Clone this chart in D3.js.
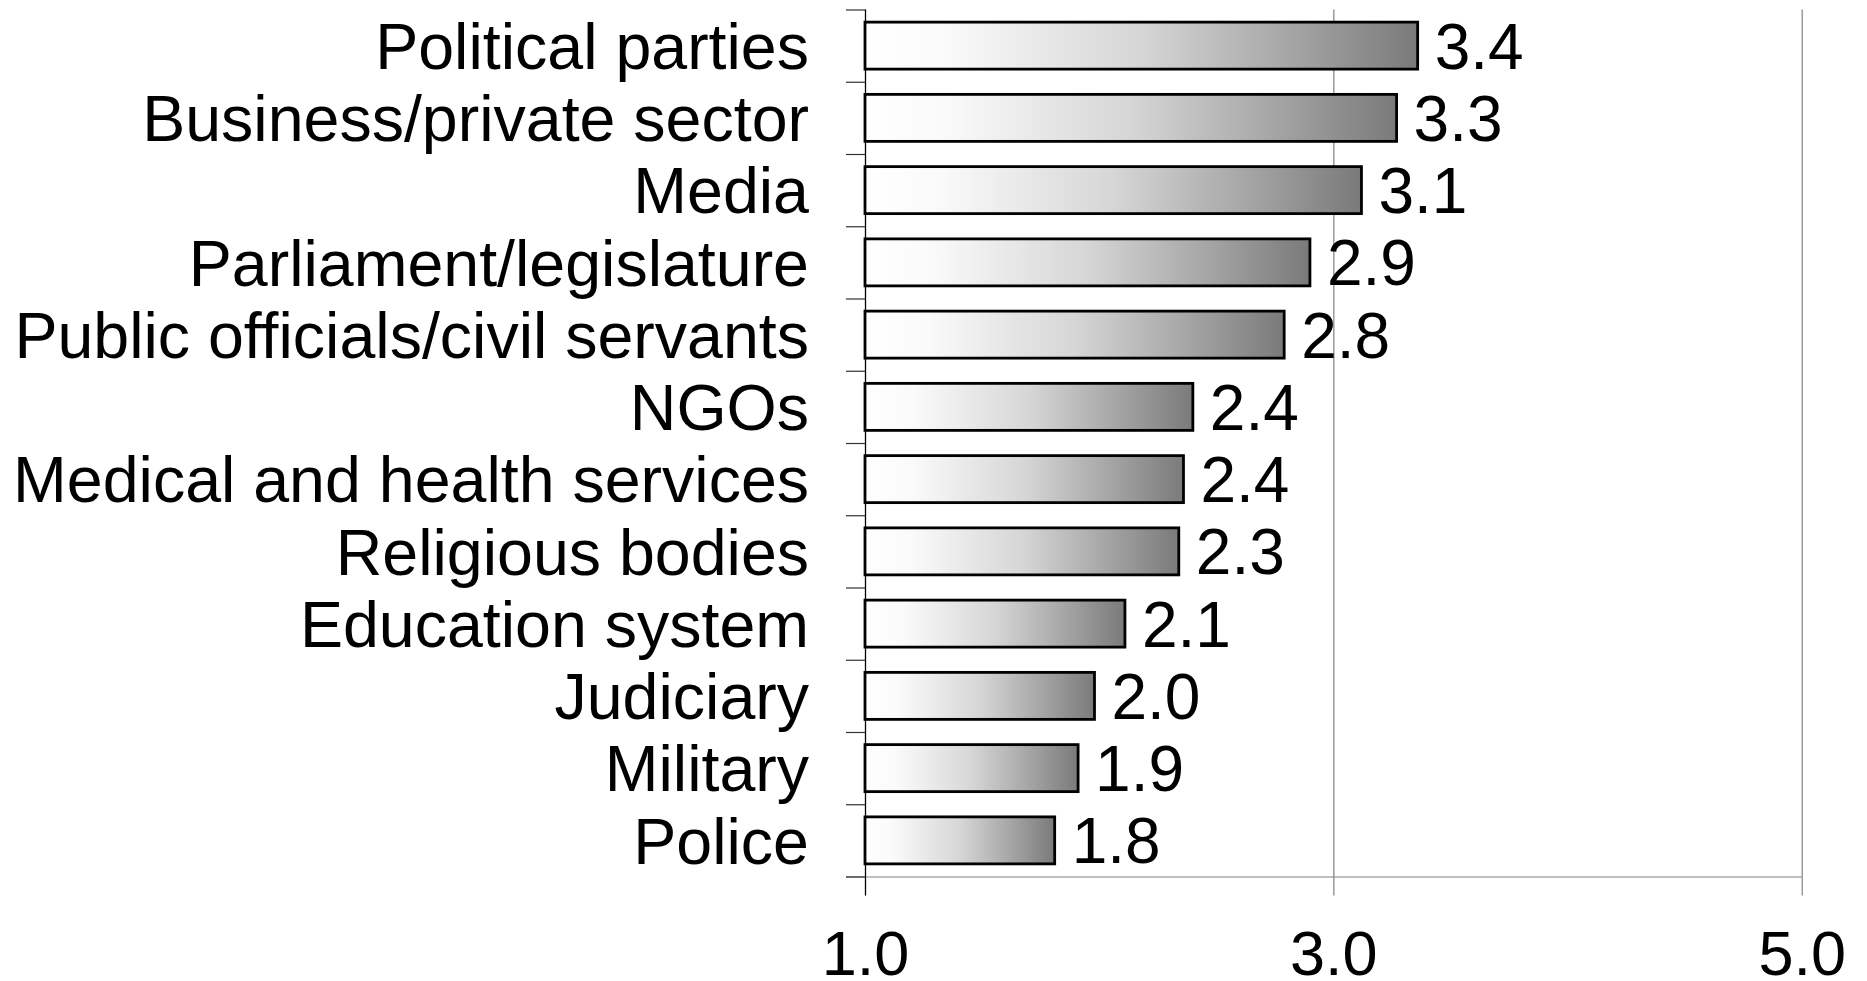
<!DOCTYPE html>
<html>
<head>
<meta charset="utf-8">
<script src="https://cdn.jsdelivr.net/npm/d3@7"></script>
<style>
  html, body { margin: 0; padding: 0; background: #fff; }
  svg { display: block; }
  text { font-family: "Liberation Sans", Arial, Helvetica, sans-serif; fill: #000; }
</style>
</head>
<body>
<svg id="chart" width="1867" height="981"></svg>
<script>
const categories = [
  "Political parties",
  "Business/private sector",
  "Media",
  "Parliament/legislature",
  "Public officials/civil servants",
  "NGOs",
  "Medical and health services",
  "Religious bodies",
  "Education system",
  "Judiciary",
  "Military",
  "Police"
];
const values = [3.36, 3.27, 3.12, 2.90, 2.79, 2.40, 2.36, 2.34, 2.11, 1.98, 1.91, 1.81];
const valueLabels = ["3.4", "3.3", "3.1", "2.9", "2.8", "2.4", "2.4", "2.3", "2.1", "2.0", "1.9", "1.8"];
const xTicks = [1, 3, 5];
const xTickLabels = ["1.0", "3.0", "5.0"];

const svg = d3.select("#chart");
const plotLeft = 865, plotRight = 1801.7, plotTop = 9.5, plotBottom = 876.5;

const x = d3.scaleLinear().domain([1, 5]).range([plotLeft, plotRight]);
const y = d3.scaleBand().domain(categories).range([plotTop, plotBottom]).padding(0);
const yEdge = d3.scaleLinear().domain([0, categories.length]).range([plotTop, plotBottom]);

// gradient
const defs = svg.append("defs");
const grad = defs.append("linearGradient").attr("id", "barGrad")
  .attr("x1", "0%").attr("x2", "100%").attr("y1", "0%").attr("y2", "0%");
[[0, "#ffffff"], [0.15, "#fafafa"], [0.5, "#d6d6d6"], [0.75, "#a9a9a9"], [1, "#7a7a7a"]]
  .forEach(([o, c]) => grad.append("stop").attr("offset", o).attr("stop-color", c));

// x axis with gridlines
const xAxis = svg.append("g")
  .attr("transform", `translate(0,${plotBottom})`)
  .call(d3.axisBottom(x).tickValues(xTicks).tickFormat((d, i) => xTickLabels[i]).tickSizeOuter(0));
xAxis.select(".domain").attr("stroke", "#808080").attr("stroke-width", 1.2)
  .attr("d", `M${plotLeft - 19},0.5H${plotRight}`);
xAxis.selectAll(".tick line")
  .attr("y1", -(plotBottom - plotTop)).attr("y2", 19)
  .attr("stroke", "#808080").attr("stroke-width", 1.2);
xAxis.selectAll(".tick text")
  .attr("y", 98).attr("dy", 0)
  .style("font-size", "63px");

// y axis (ticks at band edges)
const yAxis = svg.append("g")
  .attr("transform", `translate(${plotLeft},0)`)
  .call(d3.axisLeft(yEdge).tickValues(d3.range(categories.length + 1)).tickFormat("").tickSize(19).tickSizeOuter(0));
yAxis.select(".domain").attr("stroke", "#000").attr("stroke-width", 1.2)
  .attr("d", `M0.5,${plotTop}V${plotBottom + 19}`);
yAxis.selectAll(".tick line").attr("stroke", "#333").attr("stroke-width", 1.2);

// bars
const barH = 47;
svg.append("g").selectAll("rect")
  .data(categories)
  .join("rect")
  .attr("x", x(1))
  .attr("y", d => y(d) + (y.bandwidth() - barH) / 2)
  .attr("width", (d, i) => x(values[i]) - x(1))
  .attr("height", barH)
  .attr("fill", "url(#barGrad)")
  .attr("stroke", "#000")
  .attr("stroke-width", 2.8);

// value labels
svg.append("g").selectAll("text")
  .data(categories)
  .join("text")
  .attr("x", (d, i) => x(values[i]) + 17)
  .attr("y", d => y(d) + y.bandwidth() / 2)
  .attr("dy", "0.36em")
  .style("font-size", "64px")
  .text((d, i) => valueLabels[i]);

// category labels
svg.append("g").selectAll("text")
  .data(categories)
  .join("text")
  .attr("x", 809)
  .attr("y", d => y(d) + y.bandwidth() / 2)
  .attr("dy", "0.36em")
  .attr("text-anchor", "end")
  .style("font-size", "64.5px")
  .text(d => d);
</script>
</body>
</html>
